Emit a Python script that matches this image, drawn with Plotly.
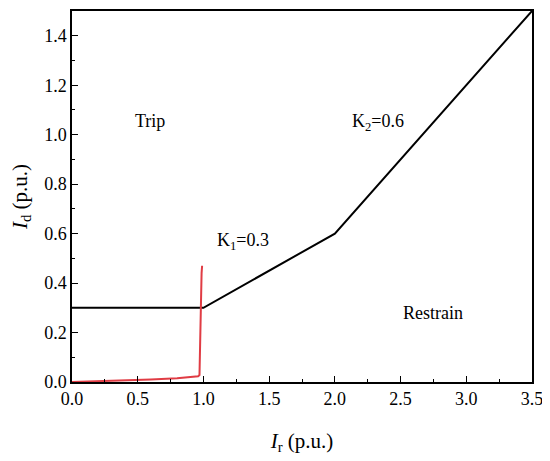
import plotly.graph_objects as go

# characteristic curve (black)
ir_char = [0.0, 1.0, 2.0, 3.5]
id_char = [0.3, 0.3, 0.6, 1.5]

# measured trajectory (red)
ir_traj = [0.0, 0.2, 0.4, 0.6, 0.8, 0.92, 0.96, 0.97, 0.972, 0.975, 0.978, 0.982, 0.986, 0.99]
id_traj = [0.0, 0.003, 0.006, 0.010, 0.015, 0.019, 0.023, 0.028, 0.1, 0.2, 0.3, 0.38, 0.44, 0.47]

labels = ["Trip", "K<sub>1</sub>=0.3", "K<sub>2</sub>=0.6", "Restrain"]
label_x = [0.59, 1.30, 2.33, 2.75]
label_y = [1.057, 0.567, 1.05, 0.28]

FONT = "Liberation Serif, DejaVu Serif, serif"

fig = go.Figure()
fig.add_trace(go.Scatter(x=ir_char, y=id_char, mode="lines",
                         line=dict(color="black", width=2), showlegend=False))
fig.add_trace(go.Scatter(x=ir_traj, y=id_traj, mode="lines",
                         line=dict(color="#e03c44", width=2), showlegend=False))

for t, x, y in zip(labels, label_x, label_y):
    fig.add_annotation(x=x, y=y, text=t, showarrow=False,
                       font=dict(family=FONT, size=18, color="black"))

axis_common = dict(showline=True, linecolor="black", linewidth=1.5, mirror=True,
                   ticks="inside", ticklen=6, tickwidth=1.2, tickcolor="black",
                   showgrid=False, zeroline=False, automargin=False,
                   tickfont=dict(family=FONT, size=18, color="black"))

fig.update_xaxes(range=[0, 3.5], dtick=0.5, tickformat=".1f",
                 minor=dict(dtick=0.25, ticks="inside", ticklen=3, tickcolor="black"),
                 title=dict(text="<i>I</i><sub>r</sub> (p.u.)", standoff=25,
                            font=dict(family=FONT, size=21, color="black")),
                 **axis_common)
fig.update_yaxes(range=[0, 1.5], dtick=0.2, tickformat=".1f",
                 minor=dict(dtick=0.1, ticks="inside", ticklen=3, tickcolor="black"),
                 title=dict(text="<i>I</i><sub>d</sub> (p.u.)", standoff=15,
                            font=dict(family=FONT, size=21, color="black")),
                 **axis_common)

# page body adds an 8px offset, so the figure is sized 8px smaller
fig.update_layout(width=542, height=453, plot_bgcolor="white", paper_bgcolor="white",
                  margin=dict(l=64, r=18, t=3, b=79))

fig.write_html("out.html")
